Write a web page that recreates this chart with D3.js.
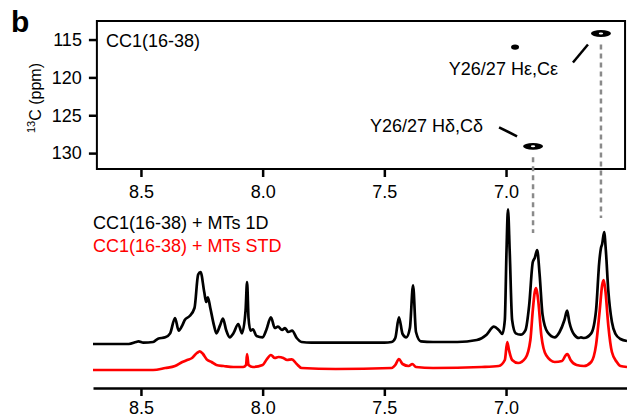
<!DOCTYPE html>
<html>
<head>
<meta charset="utf-8">
<script src="https://cdn.jsdelivr.net/npm/d3@7"></script>
<style>
  html, body { margin: 0; padding: 0; background: #fff; }
  svg text { font-family: Arial, 'Liberation Sans', Helvetica, sans-serif; }
</style>
</head>
<body>
<svg id="chart" width="627" height="419"></svg>
<script>
// 1H ticks (ppm), shared by both panels
const hTicks = [8.5, 8.0, 7.5, 7.0]
// 13C ticks (ppm), 2D panel
const cTicks = [115, 120, 125, 130]

// 2D HSQC cross peaks [1H ppm, 13C ppm, size]
const crossPeaks = [
  { h: 6.610, c: 114.2, size: 'large' },
  { h: 6.963, c: 116.0, size: 'small' },
  { h: 6.889, c: 129.1, size: 'large' }
]
// assignments shown with dashed guides down to the 1D traces
const assigned = [
  { label: 'Y26/27 Hε,Cε', h: 6.610, c: 114.2 },
  { label: 'Y26/27 Hδ,Cδ', h: 6.889, c: 129.1 }
]

const legend = ['CC1(16-38) + MTs 1D', 'CC1(16-38) + MTs STD']

// 1D reference spectrum, [ppm, intensity]
const trace1D = [
  [8.697, 0], [8.55, 0], [8.52, 1.5], [8.51, 2], [8.49, 1], [8.45, 1.5], [8.43, 4],
  [8.40, 5], [8.38, 8], [8.36, 19.5], [8.345, 10], [8.33, 14], [8.32, 18], [8.30, 21],
  [8.28, 27], [8.265, 52], [8.255, 54], [8.24, 39], [8.232, 31.5], [8.225, 35],
  [8.215, 27], [8.20, 14], [8.19, 8], [8.175, 14], [8.163, 19], [8.15, 10.5],
  [8.135, 5], [8.12, 8], [8.10, 15], [8.085, 8], [8.07, 25.5], [8.064, 46.5],
  [8.058, 19.5], [8.05, 10], [8.04, 11], [8.025, 6], [8.00, 5], [7.985, 10.5],
  [7.966, 20], [7.95, 12], [7.937, 13], [7.92, 10.5], [7.908, 12], [7.895, 9],
  [7.879, 10], [7.86, 4.5], [7.84, 1.5], [7.80, 1], [7.70, 1], [7.60, 1], [7.50, 1],
  [7.47, 1.5], [7.455, 4.5], [7.44, 20], [7.425, 7.5], [7.41, 5], [7.395, 12],
  [7.382, 44], [7.37, 9], [7.35, 2], [7.30, 1.5], [7.20, 1.5], [7.12, 3], [7.08, 7],
  [7.05, 13], [7.03, 10.5], [7.015, 7.5], [7.005, 18], [6.998, 70], [6.992, 101],
  [6.985, 70], [6.975, 18], [6.96, 8], [6.94, 7], [6.92, 10.5], [6.905, 29],
  [6.89, 61.5], [6.882, 64.5], [6.872, 70.5], [6.862, 52], [6.85, 22], [6.83, 9],
  [6.80, 5], [6.78, 9], [6.76, 18], [6.749, 25], [6.74, 16.5], [6.72, 7], [6.70, 4.5],
  [6.692, 5], [6.68, 4.5], [6.65, 8], [6.63, 25.5], [6.617, 61.5], [6.61, 72],
  [6.605, 75], [6.597, 84], [6.59, 70.5], [6.58, 40.5], [6.565, 16.5], [6.55, 7.5],
  [6.53, 3.75], [6.503, 2.25]
]

// STD difference spectrum, [ppm, intensity]
const traceSTD = [
  [8.697, 0], [8.45, 0], [8.40, 1.5], [8.36, 3], [8.33, 6], [8.31, 7.5], [8.29, 9],
  [8.27, 12.75], [8.258, 14], [8.245, 12], [8.23, 8], [8.21, 6], [8.19, 3.75],
  [8.16, 3], [8.12, 2.25], [8.08, 2.25], [8.068, 3.75], [8.064, 12], [8.058, 3.75],
  [8.04, 2.25], [8.00, 3.75], [7.985, 7.5], [7.966, 11.25], [7.95, 9], [7.935, 9.75],
  [7.915, 9], [7.90, 7.5], [7.88, 8], [7.86, 4.5], [7.84, 1.5], [7.70, 0.75],
  [7.47, 1.5], [7.455, 3.75], [7.44, 8.25], [7.425, 4.5], [7.40, 3], [7.385, 4.5],
  [7.37, 2.25], [7.30, 1.5], [7.10, 2.25], [7.03, 3], [7.005, 7.5], [6.995, 21],
  [6.988, 15], [6.975, 7.5], [6.95, 5.25], [6.92, 9], [6.90, 22.5], [6.89, 45],
  [6.882, 58.5], [6.876, 61.5], [6.868, 52.5], [6.855, 26], [6.835, 11], [6.80, 6],
  [6.77, 6.75], [6.755, 11], [6.748, 12], [6.735, 7.5], [6.71, 3.75], [6.68, 3],
  [6.65, 6], [6.63, 19], [6.615, 45], [6.605, 63.75], [6.599, 67.5], [6.592, 60],
  [6.58, 33.75], [6.565, 13.5], [6.545, 6], [6.53, 3], [6.503, 2.25]
]

const svg = d3.select('#chart')
const FS = 18

// shared 1H scale
const x = d3.scaleLinear().domain([8.697, 6.503]).range([93, 627])
const boxL = x(8.681), boxR = x(6.511)
const y2d = d3.scaleLinear().domain([112.55, 132.1]).range([21, 169])
const yInt = d3.scaleLinear().domain([0, 100]).range([344, 210.7])
const stdOffset = 26

// panel letter
svg.append('text')
  .attr('x', 11).attr('y', 32)
  .attr('font-size', 30).attr('font-weight', 'bold')
  .text('b')

// ---- 2D panel ----
const panel2d = svg.append('g')

panel2d.append('rect')
  .attr('x', boxL).attr('y', y2d.range()[0])
  .attr('width', boxR - boxL).attr('height', y2d.range()[1] - y2d.range()[0])
  .attr('fill', 'none').attr('stroke', '#000').attr('stroke-width', 2)

const hAxis2d = panel2d.append('g')
  .attr('transform', `translate(0,${y2d.range()[1]})`)
  .call(d3.axisBottom(x).tickValues(hTicks).tickFormat(d3.format('.1f')).tickSize(8).tickPadding(8))
hAxis2d.select('.domain').remove()

const cAxis = panel2d.append('g')
  .attr('transform', `translate(${boxL},0)`)
  .call(d3.axisLeft(y2d).tickValues(cTicks).tickSize(8).tickPadding(7))
cAxis.select('.domain').remove()

;[hAxis2d, cAxis].forEach(a => {
  a.selectAll('line').attr('stroke', '#000').attr('stroke-width', 2.5)
  a.selectAll('text').attr('font-size', FS).attr('fill', '#000')
    .style('font-family', "Arial, 'Liberation Sans', Helvetica, sans-serif")
})

// y title with superscript
const yt = panel2d.append('text')
  .attr('transform', `translate(41,${(y2d.range()[0] + y2d.range()[1]) / 2 + 3}) rotate(-90)`)
  .attr('text-anchor', 'middle')
  .attr('font-size', 16)
yt.append('tspan').attr('font-size', 11).attr('dy', -6).text('13')
yt.append('tspan').attr('dy', 6).text('C (ppm)')

panel2d.append('text')
  .attr('x', boxL + 9).attr('y', 47)
  .attr('font-size', FS)
  .text('CC1(16-38)')

// cross peaks: outer contour with a white inner level
const peakSize = { large: [10, 3.4], small: [4, 2.6] }
crossPeaks.forEach(p => {
  const [rx, ry] = peakSize[p.size]
  panel2d.append('ellipse')
    .attr('cx', x(p.h)).attr('cy', y2d(p.c))
    .attr('rx', rx).attr('ry', ry).attr('fill', '#000')
  if (p.size === 'large') {
    panel2d.append('ellipse')
      .attr('cx', x(p.h)).attr('cy', y2d(p.c))
      .attr('rx', rx * 0.22).attr('ry', ry * 0.3).attr('fill', '#fff')
  }
})

// assignment labels with leader lines
const eps = assigned[0], dlt = assigned[1]
panel2d.append('text')
  .attr('x', x(eps.h) - 43).attr('y', y2d(eps.c) + 42)
  .attr('text-anchor', 'end').attr('font-size', FS)
  .text(eps.label)
panel2d.append('line')
  .attr('x1', x(eps.h) - 28).attr('y1', y2d(eps.c) + 29)
  .attr('x2', x(eps.h) - 13).attr('y2', y2d(eps.c) + 11)
  .attr('stroke', '#000').attr('stroke-width', 2.5)

panel2d.append('text')
  .attr('x', x(dlt.h) - 50).attr('y', y2d(dlt.c) - 14)
  .attr('text-anchor', 'end').attr('font-size', FS)
  .text(dlt.label)
panel2d.append('line')
  .attr('x1', x(dlt.h) - 34).attr('y1', y2d(dlt.c) - 19)
  .attr('x2', x(dlt.h) - 16).attr('y2', y2d(dlt.c) - 10)
  .attr('stroke', '#000').attr('stroke-width', 2.5)

// dashed guides from the cross peaks to the 1D peaks
const guideEnd = { 'Y26/27 Hε,Cε': 218, 'Y26/27 Hδ,Cδ': 233 }
assigned.forEach(a => {
  svg.append('line')
    .attr('x1', x(a.h)).attr('x2', x(a.h))
    .attr('y1', y2d(a.c) + 11).attr('y2', guideEnd[a.label])
    .attr('stroke', '#8a8a8a').attr('stroke-width', 2.5)
    .attr('stroke-dasharray', '5,4')
})

// ---- 1D panel ----
const legendColor = ['#000', '#ff0000']
legend.forEach((t, i) => {
  svg.append('text')
    .attr('x', 93).attr('y', 229 + i * 23)
    .attr('font-size', FS).attr('fill', legendColor[i])
    .text(t)
})

const line = d3.line()
  .x(d => x(d[0]))
  .y(d => yInt(d[1]))
  .curve(d3.curveMonotoneX)

svg.append('path')
  .datum(traceSTD)
  .attr('transform', `translate(0,${stdOffset})`)
  .attr('d', line)
  .attr('fill', 'none').attr('stroke', legendColor[1])
  .attr('stroke-width', 2.7).attr('stroke-linejoin', 'round')

svg.append('path')
  .datum(trace1D)
  .attr('d', line)
  .attr('fill', 'none').attr('stroke', legendColor[0])
  .attr('stroke-width', 2.7).attr('stroke-linejoin', 'round')

const bottomAxis = svg.append('g')
  .attr('transform', 'translate(0,388)')
  .call(d3.axisBottom(x).tickValues(hTicks).tickFormat(d3.format('.1f')).tickSizeInner(8).tickSizeOuter(0).tickPadding(5))
bottomAxis.select('.domain').attr('stroke', '#000').attr('stroke-width', 2.5)
bottomAxis.selectAll('line').attr('stroke', '#000').attr('stroke-width', 2.5)
bottomAxis.selectAll('text').attr('font-size', FS).attr('fill', '#000')
  .style('font-family', "Arial, 'Liberation Sans', Helvetica, sans-serif")
</script>
</body>
</html>
